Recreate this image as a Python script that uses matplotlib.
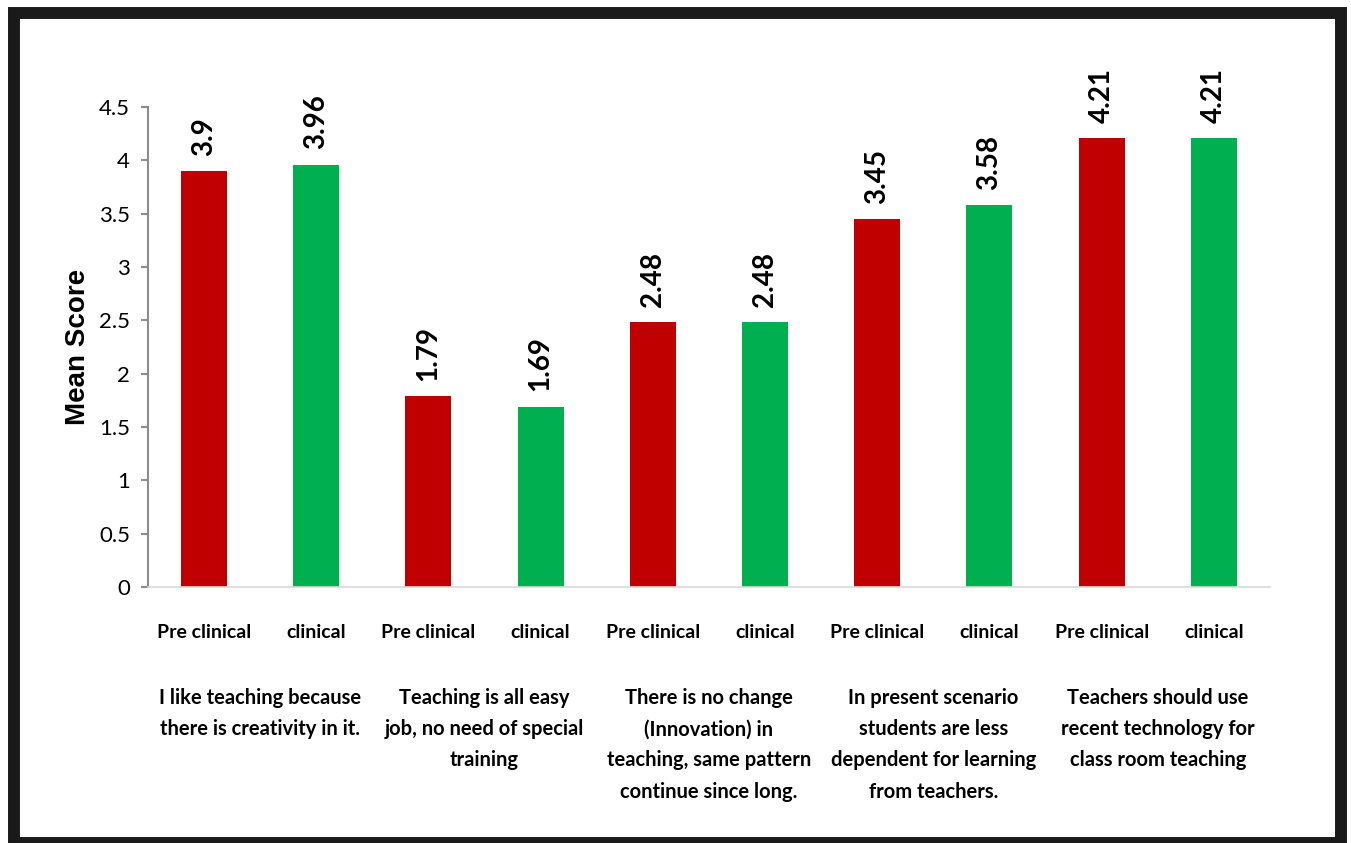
import matplotlib.pyplot as plt
from matplotlib.patches import Rectangle
import matplotlib.transforms as mtransforms

groups = ['Pre clinical', 'clinical'] * 5
scores = [3.9, 3.96, 1.79, 1.69, 2.48, 2.48, 3.45, 3.58, 4.21, 4.21]
value_labels = ['3.9', '3.96', '1.79', '1.69', '2.48', '2.48', '3.45', '3.58', '4.21', '4.21']
statements = [
    'I like teaching because\nthere is creativity in it.',
    'Teaching is all easy\njob, no need of special\ntraining',
    'There is no change\n(Innovation) in\nteaching, same pattern\ncontinue since long.',
    'In present scenario\nstudents are less\ndependent for learning\nfrom teachers.',
    'Teachers should use\nrecent technology for\nclass room teaching',
]
yticks = [0, 0.5, 1, 1.5, 2, 2.5, 3, 3.5, 4, 4.5]
ytick_labels = ['0', '0.5', '1', '1.5', '2', '2.5', '3', '3.5', '4', '4.5']

RED = '#C00000'
GREEN = '#00B050'
FONT = 'Lato'

fig = plt.figure(figsize=(13.51, 8.43), dpi=100)
ax = fig.add_axes([0.1095, 0.3037, 0.8305, 0.5693])

x = list(range(len(scores)))
colors = [RED if g == 'Pre clinical' else GREEN for g in groups]
ax.bar(x, scores, width=0.41, color=colors)

# value labels above bars, rotated
for xi, s, lab in zip(x, scores, value_labels):
    ax.annotate(lab, (xi, s), xytext=(0, 11), textcoords='offset points',
                rotation=90, ha='center', va='bottom', fontsize=20,
                fontweight='bold', family=FONT)

ax.set_xlim(-0.5, len(scores) - 0.5)
ax.set_ylim(0, 4.5)
ax.set_yticks(yticks)
ax.set_yticklabels(ytick_labels, fontsize=16, family=FONT)
ax.set_xticks(x)
ax.set_xticklabels(groups, fontsize=14, fontweight='bold', family=FONT)
ax.tick_params(axis='x', length=0, pad=27)
ax.tick_params(axis='y', length=5, width=1.5, color='#8c8c8c', pad=8, direction='out')

for side in ['top', 'right']:
    ax.spines[side].set_visible(False)
ax.spines['left'].set_color('#8c8c8c')
ax.spines['left'].set_linewidth(1.5)
ax.spines['bottom'].set_color('#d9d9d9')
ax.spines['bottom'].set_linewidth(1.2)

ax.set_ylabel('Mean Score', fontsize=20, fontweight='bold', family='Liberation Sans', labelpad=6)

# statement text under each pair of bars
trans = mtransforms.blended_transform_factory(ax.transData, fig.transFigure)
for i, st in enumerate(statements):
    ax.text(2 * i + 0.5, 1 - 688 / 843, st, transform=trans, ha='center', va='top',
            fontsize=14.5, fontweight='bold', family=FONT, linespacing=1.7)

# thick black frame round the figure
fig.patches.append(Rectangle((14 / 1351, 0.0), (1341 - 14) / 1351, 1 - 12.5 / 843,
                             transform=fig.transFigure, fill=False, clip_on=False,
                             edgecolor='#1a1a1a', linewidth=8.6))

fig.savefig('out.png', dpi=100)
